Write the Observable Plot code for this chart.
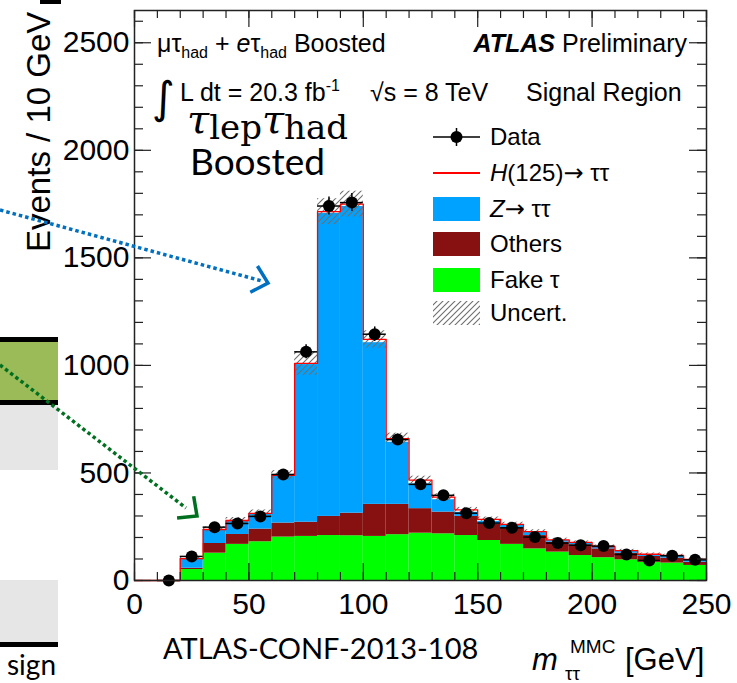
<!DOCTYPE html>
<html>
<head>
<meta charset="utf-8">
<script src="https://cdn.jsdelivr.net/npm/d3@7"></script>
<script src="https://cdn.jsdelivr.net/npm/@observablehq/plot@0.6"></script>
<style>
  body { margin: 0; background: #fff; }
  #chart { position: relative; width: 737px; height: 683px; overflow: hidden; }
</style>
</head>
<body>
<div id="chart"></div>
<script>
// m_tautau^MMC histogram, tau_lep tau_had boosted category, 10 GeV bins from 0 to 250 GeV
const binLow = [0, 10, 20, 30, 40, 50, 60, 70, 80, 90, 100, 110, 120, 130, 140, 150, 160, 170, 180, 190, 200, 210, 220, 230, 240];
const binWidth = 10;

// Background and signal expectations per bin (events / 10 GeV), bottom of stack first
const fakeTau  = [0, 0, 51, 127, 168, 180, 202, 205, 209, 208, 205, 213, 220, 217, 209, 186, 168, 147, 132, 116, 106, 96, 85, 81, 70];
const others   = [0, 0, 6, 45, 46, 59, 65, 66, 89, 105, 149, 141, 114, 101, 89, 75, 76, 62, 46, 50, 41, 31, 27, 23, 15];
const zTauTau  = [0, 0, 43, 63, 63, 71, 219, 733, 1410, 1427, 752, 290, 116, 58, 20, 15, 12, 14, 8, 8, 8, 9, 7, 11, 11];
const higgs    = [0, 0, 2, 2, 2, 2, 3, 5, 7, 10, 15, 16, 17, 12, 10, 8, 5, 4, 3, 3, 3, 3, 3, 2, 2];
const uncert   = [0, 0, 8, 12, 14, 16, 22, 55, 60, 60, 40, 25, 18, 15, 12, 11, 10, 9, 8, 7, 7, 6, 6, 5, 5];

// Observed data with statistical errors
const dataEvents = [null, 0, 112, 248, 265, 298, 493, 1063, 1741, 1757, 1145, 655, 447, 396, 313, 267, 245, 202, 174, 164, 160, 121, 93, 115, 96];
const dataErr    = [null, 0, 10.6, 15.7, 16.3, 17.3, 22.2, 32.6, 41.7, 41.9, 33.8, 25.6, 21.1, 19.9, 17.7, 16.3, 15.7, 14.2, 13.2, 12.8, 12.6, 11.0, 9.6, 10.7, 9.8];

// Axis ticks
const xTicks = [0, 50, 100, 150, 200, 250];
const yTicks = [0, 500, 1000, 1500, 2000, 2500];
const xMinor = d3.range(0, 251, 10);
const yMinor = d3.range(0, 2651, 100);

const colors = {fake: "#00ff00", others: "#871010", z: "#00a2ff", higgs: "#ff0000", data: "#000000"};

const W = 737, H = 683;
const mL = 134, mR = 31, mT = 10, mB = 103;
const innerW = W - mL - mR, innerH = H - mT - mB;
const sans = "'Liberation Sans', Arial, Helvetica, sans-serif";
const symbolFont = "'DejaVu Sans', sans-serif";

// Stack the contributions bin by bin
const layerDefs = [
  {key: "fake", values: fakeTau},
  {key: "others", values: others},
  {key: "z", values: zTauTau},
  {key: "higgs", values: higgs}
];
const base = binLow.map(() => 0);
const stacked = layerDefs.map(({key, values}) => {
  const rows = binLow.map((lo, i) => {
    const r = {x1: lo, x2: lo + binWidth, y1: base[i], y2: base[i] + values[i]};
    base[i] += values[i];
    return r;
  });
  return {key, rows};
});
const totals = base.slice();

// Outline of the full stack as a histogram step path
const outline = [];
binLow.forEach((lo, i) => {
  outline.push({x: lo, y: totals[i]});
  outline.push({x: lo + binWidth, y: totals[i]});
});

const bandRows = binLow.map((lo, i) => ({x1: lo, x2: lo + binWidth, y1: totals[i] - uncert[i], y2: totals[i] + uncert[i]}))
  .filter((d, i) => uncert[i] > 0);

const points = binLow.map((lo, i) => ({
  x: lo + binWidth / 2, lo, hi: lo + binWidth, y: dataEvents[i], err: dataErr[i]
})).filter(d => d.y !== null);

const tickStroke = "#222";

const chart = Plot.plot({
  width: W,
  height: H,
  marginLeft: mL,
  marginRight: mR,
  marginTop: mT,
  marginBottom: mB,
  style: {fontFamily: sans, fontSize: "30px", background: "#fff", color: "#000"},
  x: {domain: [0, 250]},
  y: {domain: [0, 2650]},
  marks: [
    ...stacked.map(({key, rows}) =>
      Plot.rect(rows, {x1: "x1", x2: "x2", y1: "y1", y2: "y2",
        fill: key === "higgs" ? "#ffffff" : colors[key]})
    ),
    Plot.rect(bandRows, {x1: "x1", x2: "x2", y1: "y1", y2: "y2", fill: "url(#hatch)"}),
    Plot.line(outline, {x: "x", y: "y", stroke: colors.higgs, strokeWidth: 1.3}),
    // data: bin-width bars, statistical error bars, markers
    Plot.ruleY(points, {y: "y", x1: "lo", x2: "hi", stroke: "#000", strokeWidth: 1.5}),
    Plot.ruleX(points, {x: "x", y1: d => d.y - d.err, y2: d => d.y + d.err, stroke: "#000", strokeWidth: 1.5}),
    Plot.dot(points, {x: "x", y: "y", r: 6, fill: colors.data, stroke: null}),
    // inward ticks on all four sides
    Plot.ruleX(xMinor, {x: d => d, insetTop: innerH - 8, stroke: tickStroke, strokeWidth: 1.2}),
    Plot.ruleX(xTicks, {x: d => d, insetTop: innerH - 17, stroke: tickStroke, strokeWidth: 1.2}),
    Plot.ruleX(xMinor, {x: d => d, insetBottom: innerH - 8, stroke: tickStroke, strokeWidth: 1.2}),
    Plot.ruleX(xTicks, {x: d => d, insetBottom: innerH - 17, stroke: tickStroke, strokeWidth: 1.2}),
    Plot.ruleY(yMinor, {y: d => d, insetRight: innerW - 9, stroke: tickStroke, strokeWidth: 1.2}),
    Plot.ruleY(yTicks, {y: d => d, insetRight: innerW - 17, stroke: tickStroke, strokeWidth: 1.2}),
    Plot.ruleY(yMinor, {y: d => d, insetLeft: innerW - 9, stroke: tickStroke, strokeWidth: 1.2}),
    Plot.ruleY(yTicks, {y: d => d, insetLeft: innerW - 17, stroke: tickStroke, strokeWidth: 1.2}),
    Plot.axisX(xTicks, {tickSize: 0, tickPadding: 12, fontSize: 30, label: null, tickFormat: d => String(d)}),
    Plot.axisY(yTicks, {tickSize: 0, tickPadding: 5, fontSize: 30, label: null, tickFormat: d => String(d)}),
    Plot.frame({stroke: "#222", strokeWidth: 1.5})
  ]
});

document.getElementById("chart").appendChild(chart);

const svg = d3.select(chart);

// hatch pattern for the uncertainty band
const pat = svg.insert("defs", ":first-child").append("pattern")
  .attr("id", "hatch").attr("patternUnits", "userSpaceOnUse")
  .attr("width", 6).attr("height", 6);
pat.append("path")
  .attr("d", "M0,6L6,0M-1.5,1.5L1.5,-1.5M4.5,7.5L7.5,4.5")
  .attr("stroke", "#6e6e6e").attr("stroke-width", 1.1).attr("fill", "none");

const g = svg.append("g").attr("text-anchor", "start");

// text with sub/superscript pieces; each part may carry size, style, weight, shift (baseline offset)
function rich(x, y, parts, size, family, anchor = "start") {
  const t = g.append("text").attr("x", x).attr("y", y)
    .attr("font-size", size).attr("font-family", family).attr("text-anchor", anchor).attr("fill", "#000");
  let prev = 0;
  parts.forEach(p => {
    const s = t.append("tspan").text(p.t);
    const shift = p.shift || 0;
    if (shift !== prev) s.attr("dy", shift - prev);
    prev = shift;
    if (p.size) s.attr("font-size", p.size);
    if (p.style) s.attr("font-style", p.style);
    if (p.weight) s.attr("font-weight", p.weight);
    if (p.family) s.attr("font-family", p.family);
  });
  return t;
}

// ATLAS labels inside the frame
rich(157, 52, [
  {t: "μτ"}, {t: "had", size: 16, shift: 6}, {t: " + "}, {t: "e", style: "italic"}, {t: "τ"},
  {t: "had", size: 16, shift: 6}, {t: " Boosted"}
], 25, sans);
rich(687, 52, [{t: "ATLAS", style: "italic", weight: "bold"}, {t: " Preliminary"}], 25, sans, "end");
rich(152, 113, [{t: "∫"}], 44, symbolFont);
rich(180, 101, [{t: "L dt = 20.3 fb"}, {t: "-1", size: 16, shift: -10}], 25, sans);
rich(370, 101, [{t: "√s = 8 TeV"}], 25, sans);
rich(526, 101, [{t: "Signal Region"}], 25, sans);

// legend
const lx0 = 433, lx1 = 480, ltx = 490;
const rowsY = [137, 173, 209, 244, 280, 313];
g.append("line").attr("x1", lx0).attr("x2", lx1).attr("y1", rowsY[0]).attr("y2", rowsY[0]).attr("stroke", "#000").attr("stroke-width", 1.5);
g.append("line").attr("x1", (lx0 + lx1) / 2).attr("x2", (lx0 + lx1) / 2).attr("y1", rowsY[0] - 9).attr("y2", rowsY[0] + 9).attr("stroke", "#000").attr("stroke-width", 1.5);
g.append("circle").attr("cx", (lx0 + lx1) / 2).attr("cy", rowsY[0]).attr("r", 6).attr("fill", "#000");
g.append("line").attr("x1", lx0).attr("x2", lx1).attr("y1", rowsY[1]).attr("y2", rowsY[1]).attr("stroke", colors.higgs).attr("stroke-width", 2);
[["z", 2], ["others", 3], ["fake", 4]].forEach(([k, r]) => {
  g.append("rect").attr("x", lx0).attr("y", rowsY[r] - 12).attr("width", lx1 - lx0).attr("height", 24).attr("fill", colors[k]);
});
g.append("rect").attr("x", lx0).attr("y", rowsY[5] - 12).attr("width", lx1 - lx0).attr("height", 24).attr("fill", "url(#hatch)");
const lsize = 24;
rich(ltx, rowsY[0] + 8, [{t: "Data"}], lsize, sans);
rich(ltx, rowsY[1] + 8, [{t: "H", style: "italic"}, {t: "(125)"}, {t: "→", family: symbolFont}, {t: " ττ"}], lsize, sans);
rich(ltx, rowsY[2] + 8, [{t: "Z", style: "italic"}, {t: "→", family: symbolFont}, {t: " ττ"}], lsize, sans);
rich(ltx, rowsY[3] + 8, [{t: "Others"}], lsize, sans);
rich(ltx, rowsY[4] + 8, [{t: "Fake τ"}], lsize, sans);
rich(ltx, rowsY[5] + 8, [{t: "Uncert."}], lsize, sans);

// axis titles
g.append("text").attr("transform", "translate(50,252) rotate(-90)")
  .attr("text-anchor", "start").attr("font-family", sans).attr("font-size", 33).attr("fill", "#000")
  .text("Events / 10 GeV");
rich(532, 670, [{t: "m", style: "italic"}], 31, sans);
rich(565, 680, [{t: "ττ"}], 19, sans);
rich(570, 653, [{t: "MMC"}], 19, sans);
rich(625, 670, [{t: "[GeV]"}], 31, sans);

// slide annotations around the figure
const serif = "'DejaVu Serif', serif";
rich(187, 133, [
  {t: "τ", style: "italic", size: 40}, {t: "lep", size: 34, shift: 6},
  {t: "τ", style: "italic", size: 40, shift: 0}, {t: "had", size: 34, shift: 6}
], 40, serif);
rich(190, 175, [{t: "Boosted"}], 37, "Lato, 'Open Sans', sans-serif");
rich(163, 659, [{t: "ATLAS-CONF-2013-108"}], 29, "Lato, 'Open Sans', sans-serif");
rich(7, 675, [{t: "sign"}], 28, "Lato, 'Open Sans', sans-serif");

g.append("rect").attr("x", 0).attr("y", 337).attr("width", 58).attr("height", 66).attr("fill", "#9bbb59");
g.append("rect").attr("x", 0).attr("y", 337).attr("width", 58).attr("height", 5).attr("fill", "#000");
g.append("rect").attr("x", 0).attr("y", 400).attr("width", 58).attr("height", 5).attr("fill", "#000");
g.append("rect").attr("x", 0).attr("y", 405).attr("width", 58).attr("height", 65).attr("fill", "#e6e6e6");
g.append("rect").attr("x", 0).attr("y", 580).attr("width", 58).attr("height", 62).attr("fill", "#e6e6e6");
g.append("rect").attr("x", 0).attr("y", 642).attr("width", 58).attr("height", 5).attr("fill", "#000");
g.append("rect").attr("x", 40).attr("y", 0).attr("width", 21).attr("height", 4).attr("fill", "#000");

// dotted pointer arrows
function pointer(x0, y0, x1, y1, tipX, tipY, color) {
  g.append("line").attr("x1", x0).attr("y1", y0).attr("x2", x1).attr("y2", y1)
    .attr("stroke", color).attr("stroke-width", 3.5).attr("stroke-dasharray", "3.5,3");
  const a = Math.atan2(tipY - y0, tipX - x0);
  const len = 20, spread = 0.75;
  const p1 = [tipX - len * Math.cos(a - spread), tipY - len * Math.sin(a - spread)];
  const p2 = [tipX - len * Math.cos(a + spread), tipY - len * Math.sin(a + spread)];
  g.append("path").attr("d", `M${p1}L${tipX},${tipY}L${p2}`)
    .attr("fill", "none").attr("stroke", color).attr("stroke-width", 3.5).attr("stroke-linejoin", "miter");
}
pointer(0, 210, 262, 281, 268, 283, "#0070c0");
pointer(0, 365, 186, 508, 197, 516, "#007020");
</script>
</body>
</html>
